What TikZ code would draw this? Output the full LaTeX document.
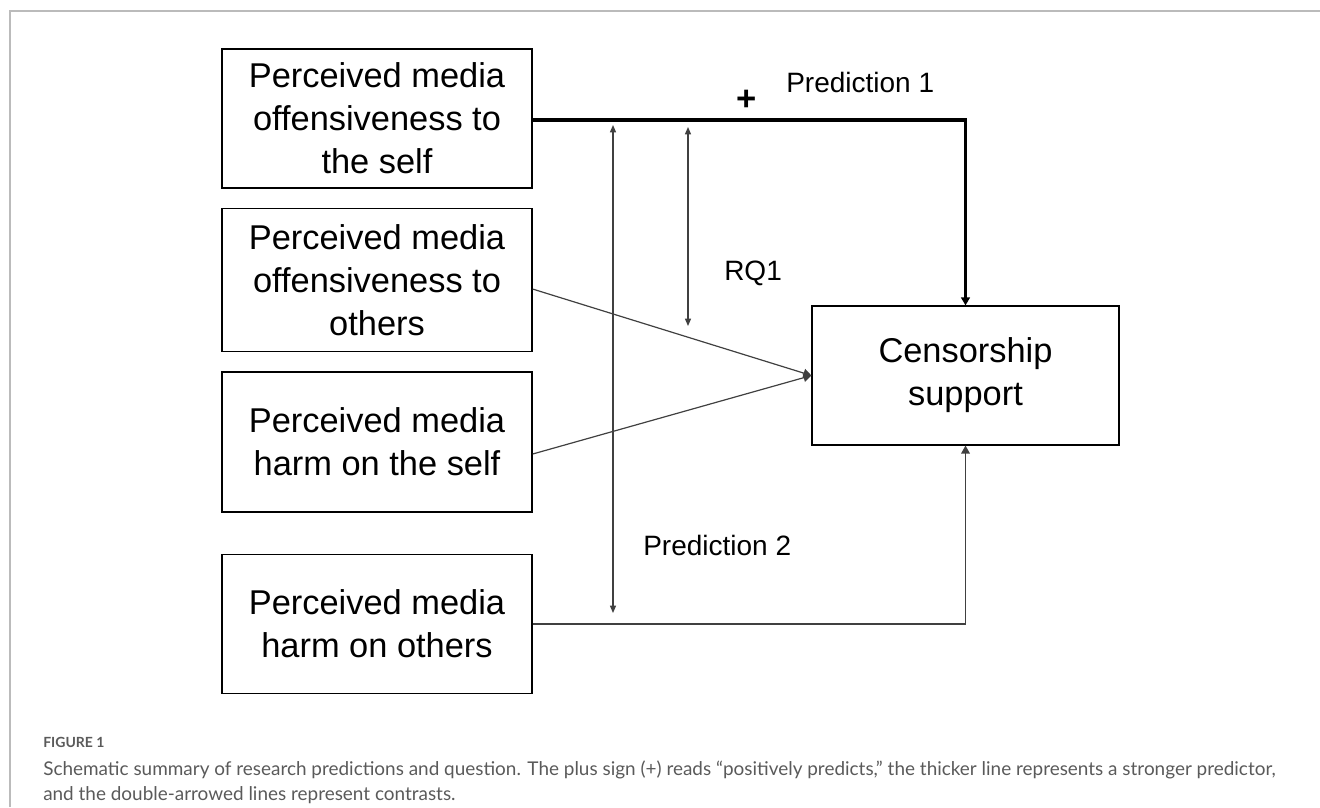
\documentclass[tikz,border=0pt]{standalone}
\usepackage{fontspec}
\setmainfont{Liberation Sans}
\newfontfamily\capfont{Lato}
\usetikzlibrary{arrows.meta}
\definecolor{framegray}{HTML}{BBBBBB}
\definecolor{linegray}{HTML}{404040}
\definecolor{capgray}{HTML}{5A5A5A}
\begin{document}
\begin{tikzpicture}[x=0.75pt,y=-0.75pt,
  box/.style={draw=black,line width=1.1pt,minimum width=232.5pt,inner sep=0pt,align=center,font=\fontsize{25.8}{32.2}\selectfont},
  thinline/.style={draw=linegray,line width=0.9pt},
  tip/.style={-{Triangle[length=6pt,width=6.5pt]}},
  dbl/.style={{Triangle[length=5.5pt,width=4.5pt]}-{Triangle[length=5.5pt,width=4.5pt]}},
  lab/.style={font=\fontsize{21}{25}\selectfont,anchor=base west,inner sep=0pt},
  capline/.style={font=\capfont\fontsize{14.2}{17}\selectfont,text=capgray,anchor=base west,inner sep=0pt}]
\useasboundingbox (0,0) rectangle (1320,807);
\draw[framegray,line width=1.2pt] (10,807) -- (10,11) -- (1320,11);

\node[box,minimum height=104pt] (b1) at (377,118.5) {Perceived media\\offensiveness to\\the self};
\node[box,minimum height=107pt] (b2) at (377,280) {Perceived media\\offensiveness to\\others};
\node[box,minimum height=105pt] (b3) at (377,442) {Perceived media\\harm on the self};
\node[box,minimum height=104pt] (b4) at (377,624) {Perceived media\\harm on others};
\node[box,minimum width=230pt,minimum height=104pt] (cs) at (965.5,375.5) {Censorship\\support};

\draw[black,line width=2.4pt,tip] ([yshift=-1.1pt]b1.east) -| (cs.north);
\draw[thinline,tip] ([yshift=-6.8pt]b2.east) -- (cs.west);
\draw[thinline,tip] ([yshift=-9pt]b3.east) -- (cs.west);
\draw[thinline,tip] (b4.east) -| (cs.south);

\coordinate (d1t) at (613,125);
\coordinate (d1b) at (613,613);
\coordinate (d2t) at (688,127);
\coordinate (d2b) at (688,326);
\draw[thinline,dbl] (d1t) -- (d1b);
\draw[thinline,dbl] (d2t) -- (d2b);

\node[font=\bfseries\fontsize{26}{30}\selectfont,inner sep=0pt] (plus) at (747,100) {+};
\node[lab] (p1) at (786,92) {Prediction 1};
\node[lab] (rq) at (724,280) {RQ1};
\node[lab] (p2) at (643,555) {Prediction 2};

\node[capline,font=\capfont\bfseries\fontsize{10.5}{12}\selectfont] (fig) at (43,747) {FIGURE 1};
\node[capline] (c1) at (43,775) {Schematic summary of research predictions and question. The plus sign (+) reads “positively predicts,” the thicker line represents a stronger predictor,};
\node[capline] (c2) at (43,800) {and the double-arrowed lines represent contrasts.};
\end{tikzpicture}
\end{document}
